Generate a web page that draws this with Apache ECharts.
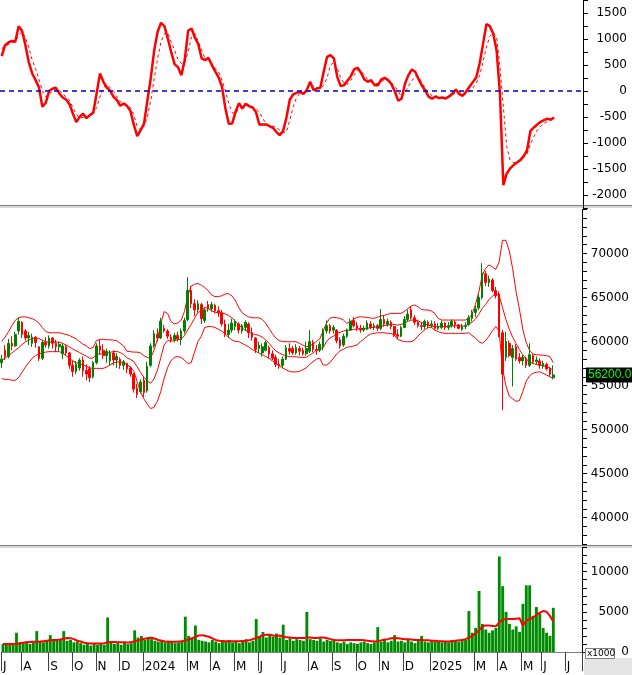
<!DOCTYPE html>
<html><head><meta charset="utf-8">
<script src="https://cdn.jsdelivr.net/npm/echarts@6/dist/echarts.min.js"></script>
<style>html,body{margin:0;padding:0;background:#fff}#c{width:632px;height:675px}</style>
</head><body><div id="c"></div>
<script>
// ---- category slots (each slot ~3 trading days) ----
const SLOTS = 172;
const monthIdx = [0,6,14,21,28,35,42,55,62,69,76,83,91,98,105,112,119,127,140,147,154,160,167];
const monthLbl = ['J','A','S','O','N','D','2024','M','A','M','J','J','A','S','O','N','D','2025','M','A','M','J','J'];

// ---- MACD panel ----
const macd = [672,883,934,966,947,1248,1158,883,550,339,211,70,-301,-224,6,45,64,-45,-122,-160,-250,-429,-595,-493,-435,-518,-461,-416,-45,339,179,70,6,-109,-173,-282,-237,-288,-384,-653,-864,-749,-621,-173,262,787,1139,1312,1248,
1011,755,518,461,307,595,1158,1203,1030,902,627,595,640,499,378,262,83,-333,-627,-621,-397,-230,-333,-243,-288,-314,-397,-640,-640,-640,-672,-704,-781,-845,-768,-512,-160,-64,-32,-19,-51,19,179,19,51,64,370,
659,691,627,275,96,115,198,288,422,448,352,224,179,211,115,115,224,256,211,134,-13,-186,-141,147,307,416,371,230,102,6,-109,-147,-102,-134,-122,-141,-102,-45,32,-58,-90,-13,83,173,262,531,902,
1286,1248,1107,787,-45,-1805,-1581,-1485,-1421,-1370,-1325,-1248,-1133,-762,-698,-640,-589,-557,-531,-544,-506];
const signal = [819,851,896,934,947,1075,1139,1030,838,595,435,224,6,-109,-58,0,45,19,-51,-109,-173,-314,-442,-518,-506,-493,-480,-429,-314,-109,70,122,70,-6,-109,-205,-237,-256,-314,-461,-685,-749,-672,-493,-173,243,627,947,1107,
1120,947,787,608,531,544,755,1043,1107,947,787,627,595,531,435,371,211,6,-237,-416,-429,-333,-301,-275,-269,-301,-333,-397,-525,-621,-672,-672,-698,-749,-800,-781,-557,-301,-122,-45,-45,-45,32,96,64,51,115,
256,499,557,435,262,147,134,211,314,403,390,307,224,173,147,147,186,211,218,147,96,-13,-102,-45,96,198,288,275,160,51,-32,-90,-115,-122,-122,-122,-109,-70,-32,-13,-45,-58,0,64,147,300,560,
850,1050,1120,1050,467,-301,-1069,-1325,-1376,-1357,-1325,-1274,-1210,-1018,-877,-749,-672,-621,-582,-557,-544];

// ---- price panel ----
const open = [57600,59000,58300,59800,59500,61200,62200,61200,60400,59800,60500,59400,58100,59900,59500,60400,59800,59400,58600,59400,58700,57300,56600,57000,57900,56700,56900,56000,57600,59500,59000,58400,57800,58700,57900,58000,57300,57500,57000,56300,54700,54300,55600,54400,57300,59500,60800,60400,
61500,61200,60500,60200,60700,60200,61200,62500,65800,64300,63600,64200,62400,64200,63700,64100,63500,63300,62000,60800,61300,61700,62000,61200,61600,62000,61000,60400,59200,58700,59000,59300,58600,58200,57400,57300,58000,59200,59200,58700,59200,59000,58600,58900,59900,59100,59000,
59400,61200,61800,61300,61300,60200,59600,60600,61300,62400,61800,61500,61300,61400,62000,61600,61800,61500,62500,61900,62200,61700,60800,60600,61600,62500,63600,62700,62200,61800,61700,62200,61800,62000,61500,61600,62100,61600,61800,62200,61900,61400,61700,
61900,62600,63300,63800,65000,67700,66700,67000,65800,65400,61000,58200,59800,58200,59400,58200,57800,58100,57300,58400,57700,57800,57200,57400,56900,55900];
const close = [58000,58300,59800,59500,60800,62300,60800,60400,60700,60500,59900,58100,59900,59600,60400,59800,59400,59700,59500,58700,57300,56600,57400,57900,56700,56300,55900,57600,59500,59000,58400,58900,58700,57900,58300,57300,57700,56900,56300,54600,54000,55400,54200,57200,59500,60900,60400,62300,
61200,60600,60200,60700,60300,61200,62400,65800,64300,63600,64300,62600,63600,63700,64200,63500,63300,62000,60800,61300,62100,62300,61300,61800,62200,61000,60500,59100,59600,59400,59900,58600,58100,57400,57200,58000,59300,58900,58700,59300,58900,58600,59200,60000,59100,59000,59700,
61200,61800,61200,61600,60100,59500,60600,61300,62300,61800,61500,61300,61500,62100,61600,61800,61500,62500,62000,62300,61700,60800,60600,61600,62500,63100,62700,62200,61800,61700,62300,61800,62000,61500,61700,62100,61600,61800,62300,61900,61500,61700,61800,
62700,63300,63700,65000,67800,66700,67100,65800,65200,61000,56300,60000,58400,59200,58000,57800,58200,57300,58500,57700,57900,57300,57500,56900,56300,56200];
const low = [57000,57900,58100,59000,59400,60800,60400,60100,59600,59400,59300,57800,57900,59300,59200,59200,58800,58900,58000,58400,56900,56000,56300,56700,56000,55600,55400,55800,57400,58500,58000,57600,57300,57300,57000,56900,56800,56400,56000,54200,53600,54100,53700,54200,57100,59300,60000,60300,
61000,60300,59900,59900,60000,59600,60900,62300,63800,62900,63300,62000,62100,63400,63400,63200,62800,61700,60500,60400,61000,61300,60900,60900,61200,60400,60100,58700,58700,58300,58900,58100,57900,57100,56900,57000,57900,58500,58500,58500,58400,58400,58400,58700,58800,58500,58800,
59000,60900,60900,60900,59800,59200,59400,60400,61200,61600,61200,61000,61100,61300,61400,61300,61200,61300,61700,61700,61400,60500,60300,60500,61500,62200,62500,61900,61600,61300,61400,61500,61600,61300,61300,61400,61300,61300,61600,61500,61400,61200,61400,
61800,62300,62800,63600,64800,66300,66200,65600,64900,60500,52200,57800,58200,54900,57800,57500,57300,57000,57100,57500,57400,56900,56900,56700,56000,55700];
const high = [58500,59600,60300,60600,61100,62700,62300,61400,61100,60900,60600,59500,60200,60500,60700,60500,60200,60000,59800,59600,58800,57800,57800,58100,58300,57400,57200,57800,59800,60200,59700,59200,59000,59000,58700,58200,57900,57600,57200,56400,55200,55700,56000,57700,59800,61300,61500,62700,
61900,61400,60800,61000,61100,61500,62700,67300,66300,64800,64700,64400,63800,64600,64500,64300,64000,63600,62500,62000,62600,62500,62200,62000,62400,62200,61600,60500,60000,59800,60100,59500,59000,58500,58000,58300,59600,59800,59500,59700,59500,59300,60000,61300,60200,59600,60000,
61500,62400,62000,61900,61400,60500,60900,61500,62600,62800,62200,61900,61800,62400,62300,62100,62000,63700,63000,62600,62400,61800,61400,61800,62900,63600,64000,63000,62500,62200,62500,62400,62400,62300,62100,62400,62200,62200,62500,62400,62000,62000,62200,
63000,63600,64100,65400,68900,68000,67500,67200,66200,65700,61300,61100,60100,59600,59700,58700,58500,58300,59800,58600,58300,58100,57800,57600,57100,57300];
const bbUpper = [60000,60500,61100,61800,62400,62700,62800,62800,62700,62600,62400,62100,61600,61150,61000,61000,61000,61000,60900,60800,60700,60500,60300,60000,59700,59500,59200,59300,60100,60250,60250,60200,60200,60150,60100,59800,59500,58900,58850,58800,58800,58700,58400,58200,58100,59000,60200,62000,63400,
63200,62300,62000,62100,62400,63400,65200,66300,66500,66600,66400,66150,65800,65300,65100,65100,65200,65400,65450,65200,64700,63900,63300,63000,62800,62700,62700,62700,62500,62100,61500,60900,60400,60100,60000,59980,59980,59980,59980,59800,59600,59400,59500,59700,60000,60300,
61200,62100,62650,62745,62710,62630,62440,62060,62250,62520,62745,62820,62780,62745,62670,62630,62745,62900,62970,63090,63200,63200,63200,63200,63430,63730,64030,64150,63960,63650,63580,63580,63470,63200,62630,62440,62440,62440,62440,62440,62440,62440,62440,
62600,63100,64200,65600,67500,68300,68700,68500,68200,69000,71500,71500,70300,68300,65700,63700,61400,59900,59000,58600,58500,58470,58450,58400,58300,57600];
const bbMid = [57900,58100,58400,58700,59000,59300,59650,59950,60150,60350,60400,60350,60150,59980,59930,59930,59930,59930,59800,59600,59400,59150,58950,58750,58530,58350,58100,58130,58530,58600,58600,58650,58780,58850,58880,58750,58550,58150,57980,57750,57150,56500,55950,55550,55250,55750,56700,58150,59600,
60100,60050,60100,60200,60300,60650,61350,61950,62650,63300,63500,63880,63750,63500,63350,63250,63200,63150,62980,62700,62350,61950,61550,61300,61100,60900,60800,60700,60500,60200,59800,59350,58950,58700,58500,58390,58290,58270,58270,58200,58200,58200,58450,58700,59000,59200,
59300,60000,60400,60600,60930,61040,61190,61300,61300,61380,61420,61460,61500,61500,61570,61610,61690,61720,61800,61870,61950,61950,61870,61950,62060,62290,62440,62440,62370,62180,62030,61870,61760,61690,61690,61690,61690,61690,61760,61800,61800,61760,61760,
62000,62200,62550,63100,63750,64200,64750,65150,65450,65200,63900,62500,61400,60500,59800,59100,58500,58000,57700,57500,57400,57330,57250,57150,57000,56750];
const bbLower = [55800,55700,55700,55600,55600,55900,56500,57100,57600,58100,58400,58600,58700,58800,58850,58850,58850,58850,58700,58400,58100,57800,57600,57500,57350,57200,57000,56950,56950,56950,56950,57100,57350,57550,57650,57700,57600,57400,57100,56700,55500,54300,53500,52900,52400,52500,53200,54300,55800,
57000,57800,58200,58300,58200,57900,57500,57600,58800,60000,60600,61600,61700,61700,61600,61400,61200,60900,60500,60200,60000,60000,59800,59600,59400,59100,58900,58700,58500,58300,58100,57800,57500,57300,57000,56800,56600,56550,56550,56600,56800,57000,57400,57700,58000,58100,
57330,57330,57600,58090,58580,58960,59110,59340,59410,59490,59600,59980,60250,60620,60850,60930,61000,61000,61000,60930,60930,60740,60250,60100,59980,59980,59980,60170,60620,61000,61300,61610,61610,61300,61120,61000,60930,60930,60930,60930,60930,60930,60930,
61000,60700,60400,60000,59800,60100,60600,61200,61700,61200,57000,55000,53800,53500,53200,53300,54300,55500,56100,56400,56500,56570,56400,56200,56000,55800];

// ---- volume panel ----
const volume = [1000,900,1100,1000,2400,1200,1100,1300,1000,1200,2600,1300,1200,1500,2100,1600,1400,1500,2600,1400,1500,1200,1300,1100,900,1000,800,1000,900,1100,900,4300,1200,1000,1100,900,1300,1000,1100,2700,1800,2000,1500,1700,1600,
1400,1300,1500,1200,1400,1300,1100,1200,1400,4400,2000,1800,3300,1500,1400,1300,1200,1500,1300,1100,1400,1300,1500,1200,1400,1100,1300,1600,1200,1400,4100,2000,2500,1800,2200,1900,2300,1800,3400,1500,1700,1400,1600,1500,1400,5000,
1600,1500,1400,1700,1300,1500,1400,1600,1200,1100,1300,1000,1200,1100,1000,1200,1300,1100,1000,1200,3100,1300,1500,1200,1400,2100,1300,1400,1200,1500,1300,1100,1400,2000,1300,1200,1500,1300,1400,1200,1300,1200,1500,1400,1300,1600,1500,
5100,2400,3000,7600,3500,2800,2400,2700,3000,11900,8200,5000,3500,2800,3200,2500,6000,8300,8300,4500,5600,4800,3000,2400,2000,5500];
const volMA = [1000,1000,1000,1000,1000,1100,1150,1200,1250,1270,1280,1300,1350,1400,1450,1480,1500,1550,1650,1750,1700,1600,1400,1300,1150,1100,1050,1050,1050,1050,1100,1200,1250,1250,1200,1200,1180,1180,1200,1350,1450,1550,1650,1750,1780,
1650,1500,1400,1300,1280,1270,1280,1300,1350,1450,1550,1700,1900,2050,2100,2000,1900,1700,1500,1400,1380,1350,1350,1350,1350,1350,1380,1400,1450,1600,1750,1900,2100,2150,2150,2050,2000,2050,1900,1850,1800,
1750,1750,1750,1750,1800,1800,1750,1750,1800,1800,1700,1600,1500,1450,1450,1450,1480,1500,1500,1500,1500,1450,1400,1350,1300,1350,1450,1550,1600,1700,1750,1700,1650,1600,1600,1550,1500,1500,
1500,1450,1450,1400,1400,1350,1350,1300,1300,1350,1400,1450,1500,1600,
1800,2000,2300,2700,3200,3300,3300,3250,3200,3700,4000,4100,4100,4100,4150,4200,3300,3900,4100,4300,4600,4900,5100,5000,4500,3800];

// ---- build ----
const cats = [];
for (let i = 0; i < SLOTS; i++) cats.push(String(i));
const candles = open.map((o, i) => [o, close[i], low[i], high[i]]);
const lastClose = close[close.length - 1];
const isMonth = (idx) => monthIdx.indexOf(idx) >= 0;
const FONT = 'DejaVu Sans';
const axisTxt = { color: '#000', fontFamily: FONT, fontSize: 12 };

function yAx(grid, min, max, step, labelStep, hideAbove, margin) {
  return {
    type: 'value', gridIndex: grid, position: 'right', min: min, max: max, interval: step,
    splitLine: { show: false },
    axisLine: { show: true, lineStyle: { color: '#000', width: 1 } },
    axisTick: { show: true, length: 5, lineStyle: { color: '#000' } },
    axisLabel: Object.assign({ margin: margin, align: 'right',
      formatter: (v) => (v % labelStep === 0 && v <= hideAbove) ? String(v) : '' }, axisTxt)
  };
}
function xAx(grid, showLabels) {
  return {
    type: 'category', gridIndex: grid, data: cats, boundaryGap: true,
    axisLine: { show: showLabels, lineStyle: { color: '#808080' } },
    axisTick: { show: showLabels, length: 19, interval: (i) => isMonth(i), lineStyle: { color: '#404040' } },
    axisLabel: Object.assign({ show: showLabels, interval: (i) => isMonth(i), align: 'left', margin: 4,
      formatter: (v) => { const k = monthIdx.indexOf(Number(v)); return k >= 0 ? monthLbl[k] : ''; } }, axisTxt),
    offset: showLabels ? 5 : 0,
    splitLine: { show: false }
  };
}

const chart = echarts.init(document.getElementById('c'), null, { renderer: 'canvas' });
chart.setOption({
  animation: false,
  backgroundColor: '#fff',
  grid: [
    { left: 0, right: 49, top: 0, height: 208.3 },
    { left: 0, right: 49, top: 209.5, height: 334.5 },
    { left: 0, right: 49, top: 547.6, height: 104.4 }
  ],
  xAxis: [xAx(0, false), xAx(1, false), xAx(2, true)],
  yAxis: [
    yAx(0, -2250, 1750, 250, 500, 1500, 44),
    yAx(1, 37000, 75000, 1000, 5000, 70000, 47),
    yAx(2, 0, 13000, 1000, 5000, 10000, 47)
  ],
  series: [
    { name: 'MACD', type: 'line', xAxisIndex: 0, yAxisIndex: 0, data: macd, symbol: 'none',
      lineStyle: { color: '#ff0000', width: 2.5 }, z: 3,
      markLine: { silent: true, symbol: 'none', label: { show: false },
        lineStyle: { color: '#0000cc', type: [5, 4], width: 1.5 }, data: [{ yAxis: 0 }] } },
    { name: 'Signal', type: 'line', xAxisIndex: 0, yAxisIndex: 0, data: signal, symbol: 'none',
      lineStyle: { color: '#ff0000', width: 1, type: [3, 3] }, z: 2 },
    { name: 'Price', type: 'candlestick', xAxisIndex: 1, yAxisIndex: 1, data: candles, barWidth: '62%',
      itemStyle: { color: '#008000', color0: '#ff0000', borderColor: '#008000', borderColor0: '#ff0000', borderWidth: 1 },
      markLine: { silent: true, symbol: 'none', animation: false,
        lineStyle: { color: 'rgba(0,0,0,0)', width: 1, type: 'solid' }, data: [{ yAxis: lastClose }],
        label: { show: true, position: 'end', distance: 4, formatter: () => lastClose.toFixed(2), backgroundColor: '#000',
          color: '#00ff00', padding: [2, 2, 1, 2], fontFamily: 'Liberation Sans', fontSize: 12 } }, z: 3 },
    { name: 'BB Upper', type: 'line', xAxisIndex: 1, yAxisIndex: 1, data: bbUpper, symbol: 'none', lineStyle: { color: '#ff0000', width: 1 }, z: 2 },
    { name: 'BB Mid', type: 'line', xAxisIndex: 1, yAxisIndex: 1, data: bbMid, symbol: 'none', lineStyle: { color: '#ff0000', width: 1 }, z: 2 },
    { name: 'BB Lower', type: 'line', xAxisIndex: 1, yAxisIndex: 1, data: bbLower, symbol: 'none', lineStyle: { color: '#ff0000', width: 1 }, z: 2 },
    { name: 'Volume', type: 'bar', xAxisIndex: 2, yAxisIndex: 2, data: volume, barCategoryGap: '15%',
      itemStyle: { color: '#008c00' }, z: 2 },
    { name: 'Vol MA', type: 'line', xAxisIndex: 2, yAxisIndex: 2, data: volMA, symbol: 'none',
      lineStyle: { color: '#ff0000', width: 2 }, z: 3 }
  ],
  graphic: [
    { type: 'rect', left: 0, top: 205, shape: { width: 632, height: 1 }, style: { fill: '#808080' }, silent: true },
    { type: 'rect', left: 0, top: 206, shape: { width: 632, height: 2 }, style: { fill: '#d8d8d8' }, silent: true },
    { type: 'rect', left: 0, top: 545, shape: { width: 632, height: 1 }, style: { fill: '#808080' }, silent: true },
    { type: 'rect', left: 0, top: 546, shape: { width: 632, height: 2 }, style: { fill: '#d8d8d8' }, silent: true },
    { type: 'rect', left: 584, top: 658, shape: { width: 48, height: 17 }, style: { fill: '#e4e4e4' }, silent: true },
    { type: 'rect', left: 585, top: 648, shape: { width: 29, height: 10 }, style: { fill: '#fff', stroke: '#808080', lineWidth: 1 }, silent: true, z: 10 },
    { type: 'text', left: 587, top: 649, style: { text: 'x1000', font: '9px "DejaVu Sans"', fill: '#000' }, silent: true, z: 11 }
  ]
});
</script></body></html>
